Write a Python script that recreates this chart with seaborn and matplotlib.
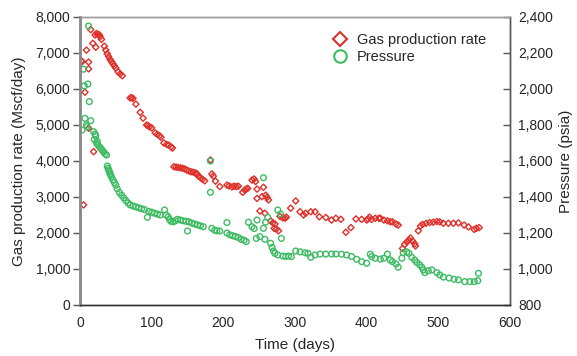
import matplotlib
matplotlib.use("Agg")
import matplotlib.pyplot as plt
from matplotlib.lines import Line2D
import seaborn as sns
import pandas as pd

# Gas production rate (Mscf/day) by day
rate_days = [2, 3, 5, 7, 9, 12, 12, 12, 15, 18, 19, 21, 22, 23, 25, 27, 28, 30,
             34, 36, 38, 40, 42, 44, 46, 48, 50, 53, 56, 59, 70, 72, 74, 78, 84,
             88, 93, 95, 97, 100, 105, 108, 111, 113, 117, 121, 124, 127, 129,
             131, 134, 137, 140, 143, 146, 149, 152, 155, 158, 161, 163, 165,
             168, 171, 174, 182, 184, 186, 189, 195, 205, 208, 212, 215, 218,
             221, 227, 230, 232, 234, 240, 243, 245, 247, 247, 251, 254, 256,
             258, 259, 261, 263, 266, 269, 271, 272, 274, 277, 279, 283, 286,
             288, 294, 301, 307, 312, 315, 322, 328, 334, 343, 351, 357, 364,
             371, 378, 385, 393, 400, 402, 404, 407, 412, 417, 419, 424, 429,
             433, 436, 441, 444, 450, 453, 456, 459, 461, 464, 467, 468, 472,
             475, 478, 483, 488, 493, 498, 502, 507, 514, 521, 528, 536, 542,
             550, 553, 557]
rate_vals = [6780, 6760, 2780, 5910, 7080, 6750, 6560, 4910, 7650, 7270, 4260,
             7500, 7160, 7540, 7520, 7500, 7450, 7380, 7190, 7080, 6980, 6900,
             6820, 6760, 6700, 6640, 6580, 6480, 6420, 6370, 5750, 5760, 5740,
             5580, 5350, 5190, 5000, 4980, 4950, 4920, 4780, 4740, 4700, 4660,
             4500, 4460, 4440, 4390, 4360, 3840, 3830, 3820, 3810, 3800, 3780,
             3750, 3720, 3700, 3690, 3670, 3650, 3580, 3540, 3490, 3450, 4030,
             3640, 3580, 3440, 3290, 3330, 3310, 3280, 3300, 3290, 3300, 3130,
             3190, 3220, 3240, 3470, 3500, 3430, 3220, 2960, 2610, 3010, 3270,
             2550, 3050, 2990, 2920, 2340, 2280, 2130, 2250, 2110, 2060, 2460,
             2420, 2410, 2440, 2690, 2890, 2590, 2500, 2550, 2590, 2590, 2450,
             2430, 2360, 2410, 2380, 2020, 2150, 2390, 2380, 2360, 2390, 2440,
             2380, 2410, 2410, 2410, 2360, 2340, 2310, 2310, 2250, 2220, 1570,
             1680, 1750, 1800, 1860, 1780, 1700, 1640, 2060, 2190, 2240, 2270,
             2290, 2300, 2320, 2310, 2270, 2270, 2270, 2280, 2220, 2170, 2100,
             2130, 2150]

# Bottom-hole pressure (psia) by day
pres_days = [3, 5, 6, 7, 9, 10, 11, 12, 13, 15, 19, 20, 21, 22, 23, 24, 25, 27,
             29, 31, 33, 35, 37, 38, 39, 40, 41, 42, 43, 44, 46, 48, 50, 52, 55,
             58, 61, 64, 67, 70, 74, 78, 82, 86, 90, 94, 96, 100, 104, 108, 112,
             118, 120, 123, 125, 127, 130, 133, 136, 140, 144, 148, 150, 152,
             156, 160, 164, 168, 172, 182, 182, 184, 188, 191, 195, 205, 205,
             209, 213, 217, 221, 225, 229, 232, 235, 240, 243, 246, 247, 251,
             256, 256, 258, 259, 262, 266, 268, 270, 272, 276, 276, 280, 281,
             283, 287, 291, 295, 301, 307, 314, 318, 322, 328, 335, 343, 351,
             357, 365, 372, 379, 386, 393, 400, 405, 407, 412, 419, 424, 429,
             433, 436, 441, 444, 449, 451, 456, 459, 463, 467, 470, 474, 477,
             479, 481, 486, 491, 498, 502, 507, 515, 522, 528, 537, 544, 550,
             555, 556]
pres_vals = [1772, 2110, 2017, 1837, 1800, 1790, 2028, 2350, 1930, 1824, 1763,
             1720, 1750, 1740, 1700, 1710, 1690, 1680, 1670, 1660, 1650, 1640,
             1633, 1572, 1560, 1550, 1540, 1530, 1520, 1510, 1495, 1480, 1465,
             1445, 1425, 1410, 1395, 1380, 1367, 1356, 1350, 1345, 1340, 1335,
             1330, 1287, 1320, 1315, 1310, 1305, 1300, 1328, 1300, 1290, 1275,
             1265, 1262, 1268, 1276, 1272, 1268, 1265, 1211, 1262, 1255, 1250,
             1245, 1240, 1235, 1600, 1426, 1226, 1215, 1212, 1211, 1258, 1200,
             1190, 1185, 1180, 1175, 1165, 1160, 1152, 1260, 1235, 1225, 1170,
             1272, 1180, 1226, 1507, 1165, 1260, 1287, 1143, 1120, 1100, 1087,
             1328, 1078, 1306, 1170, 1072, 1070, 1072, 1069, 1100, 1095, 1090,
             1087, 1065, 1078, 1083, 1083, 1083, 1083, 1082, 1078, 1069, 1054,
             1041, 1032, 1082, 1069, 1060, 1055, 1060, 1083, 1050, 1041, 1028,
             1010, 1060, 1091, 1095, 1087, 1065, 1050, 1036, 1023, 1010, 995,
             980, 990, 995, 980, 967, 955, 950, 943, 940, 930, 930, 930, 935,
             976]

rate_ticks = [0, 1000, 2000, 3000, 4000, 5000, 6000, 7000, 8000]
pres_ticks = [800, 1000, 1200, 1400, 1600, 1800, 2000, 2200, 2400]
day_ticks = [0, 100, 200, 300, 400, 500, 600]

RED = "#e0302a"
GREEN = "#3dbb62"

rate_df = pd.DataFrame({"day": rate_days, "rate": rate_vals})
pres_df = pd.DataFrame({"day": pres_days, "pressure": pres_vals})

sns.set_style("white")
plt.rcParams["font.family"] = ["Liberation Sans", "DejaVu Sans"]

fig = plt.figure(figsize=(5.77, 3.56), dpi=100)
ax = fig.add_axes([80 / 577, 1 - 305 / 356, 430 / 577, 288 / 356])
ax2 = ax.twinx()

sns.scatterplot(data=rate_df, x="day", y="rate", ax=ax, marker="D", s=10,
                facecolor="none", edgecolor=RED, linewidth=1.0, legend=False)
sns.scatterplot(data=pres_df, x="day", y="pressure", ax=ax2, marker="o", s=17,
                facecolor="none", edgecolor=GREEN, linewidth=1.0, legend=False)

ax.set_xlim(0, 600)
ax.set_ylim(0, 8000)
ax2.set_ylim(800, 2400)
ax.set_xticks(day_ticks)
ax.set_yticks(rate_ticks)
ax2.set_yticks(pres_ticks)
ax.set_yticklabels([f"{v:,}" for v in rate_ticks])
ax2.set_yticklabels([f"{v:,}" for v in pres_ticks])

ax.set_xlabel("Time (days)", fontsize=11, labelpad=6)
ax.set_ylabel("Gas production rate (Mscf/day)", fontsize=11, labelpad=7)
ax2.set_ylabel("Pressure (psia)", fontsize=11, labelpad=4)

for a in (ax, ax2):
    for sp in a.spines.values():
        sp.set_visible(True)
        sp.set_linewidth(1.0)
    a.spines["left"].set_color("#8a8a8a")
    a.spines["left"].set_linewidth(1.8)
    a.spines["top"].set_color("#9a9a9a")
    a.spines["right"].set_color("#555555")
    a.spines["bottom"].set_color("#333333")

ax.tick_params(axis="x", direction="out", length=5, width=1, color="#333333",
               labelsize=10, pad=3)
ax.tick_params(axis="y", direction="out", length=5, width=1, color="#555555",
               labelsize=10, pad=2)
ax2.tick_params(axis="y", direction="in", length=5, width=1, color="#555555",
                labelsize=10, pad=6)

handles = [
    Line2D([], [], linestyle="none", marker="D", markersize=7,
           markerfacecolor="none", markeredgecolor=RED, markeredgewidth=1.5),
    Line2D([], [], linestyle="none", marker="o", markersize=9,
           markerfacecolor="none", markeredgecolor=GREEN, markeredgewidth=1.5),
]
ax2.legend(handles, ["Gas production rate", "Pressure"], loc="upper right",
           bbox_to_anchor=(0.975, 0.99), frameon=False, fontsize=10.5,
           handletextpad=0.6, labelspacing=0.2, handlelength=1.2)

fig.savefig("out.png", dpi=100)
